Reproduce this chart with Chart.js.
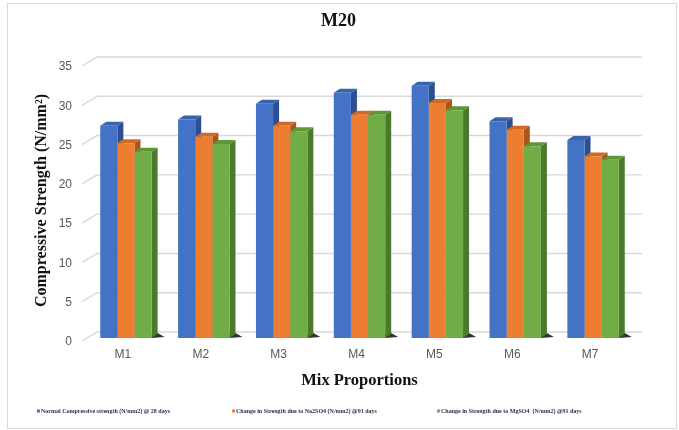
<!DOCTYPE html>
<html>
<head>
<meta charset="utf-8">
<script src="https://cdn.jsdelivr.net/npm/chart.js@4.4.1/dist/chart.umd.min.js"></script>
<style>
  html, body { margin: 0; padding: 0; background: #ffffff; }
  #wrap { width: 679px; height: 430px; }
</style>
</head>
<body>
<div id="wrap"><canvas id="chart" width="679" height="430"></canvas></div>
<script>
// Mix proportions and strengths (N/mm2)
const categories = ['M1', 'M2', 'M3', 'M4', 'M5', 'M6', 'M7'];
const normal28Days = [27.0, 27.8, 29.8, 31.2, 32.1, 27.6, 25.2];
const na2so4At91Days = [24.8, 25.6, 27.0, 28.4, 29.9, 26.5, 23.1];
const mgso4At91Days = [23.7, 24.7, 26.3, 28.4, 29.0, 24.4, 22.7];
const yTickValues = [0, 5, 10, 15, 20, 25, 30, 35];
const seriesNames = [
  'Normal Compressive strength (N/mm2) @ 28 days',
  'Change in Strength due to Na2SO4 (N/mm2) @91 days',
  'Change in Strength due to MgSO4  (N/mm2) @91 days'
];

// front / side / top shades for the pseudo-3D columns
const frontColors = ['#4472C4', '#ED7D31', '#70AD47'];
const sideColors  = ['#2B4F8F', '#A9561C', '#4B7A2C'];
const topColors   = ['#3A63AE', '#CF6A24', '#5E963A'];

const DEPTH_X = 6, DEPTH_Y = 4, WALL_SHIFT = 6;

// white page with a thin frame
const framePlugin = {
  id: 'frame',
  beforeDraw(chart) {
    const ctx = chart.ctx;
    ctx.save();
    ctx.fillStyle = '#ffffff';
    ctx.fillRect(0, 0, chart.width, chart.height);
    ctx.strokeStyle = '#d9d9d9';
    ctx.lineWidth = 1;
    ctx.strokeRect(7.5, 3.5, chart.width - 10, chart.height - 5);
    ctx.restore();
  }
};

// back-wall gridlines plus the short side-wall diagonals, then column sides and tops
const depthPlugin = {
  id: 'depth',
  beforeDatasetsDraw(chart) {
    const ctx = chart.ctx;
    const y = chart.scales.y;
    const area = chart.chartArea;
    ctx.save();
    ctx.strokeStyle = '#d9d9d9';
    ctx.lineWidth = 1.4;
    y.ticks.forEach(t => {
      const py = y.getPixelForValue(t.value);
      ctx.beginPath();
      ctx.moveTo(area.left - 5, py + 3);
      ctx.lineTo(area.left + 10, py - WALL_SHIFT);
      ctx.lineTo(area.right + 10, py - WALL_SHIFT);
      ctx.stroke();
    });

    chart.data.datasets.forEach((ds, i) => {
      const meta = chart.getDatasetMeta(i);
      meta.data.forEach(bar => {
        const p = bar.getProps(['x', 'y', 'base', 'width'], true);
        const l = p.x - p.width / 2, r = p.x + p.width / 2;
        // floor shadow behind the last column of each group
        if (i === chart.data.datasets.length - 1) {
          ctx.fillStyle = 'rgba(0,0,0,0.8)';
          ctx.beginPath();
          ctx.moveTo(r, p.base);
          ctx.lineTo(r + 13, p.base - 1);
          ctx.lineTo(r + DEPTH_X, p.base - DEPTH_Y - 1);
          ctx.lineTo(r, p.base - DEPTH_Y);
          ctx.closePath();
          ctx.fill();
        }
        ctx.fillStyle = sideColors[i];
        ctx.beginPath();
        ctx.moveTo(r, p.y);
        ctx.lineTo(r + DEPTH_X, p.y - DEPTH_Y);
        ctx.lineTo(r + DEPTH_X, p.base - DEPTH_Y);
        ctx.lineTo(r, p.base);
        ctx.closePath();
        ctx.fill();
        ctx.fillStyle = topColors[i];
        ctx.beginPath();
        ctx.moveTo(l, p.y);
        ctx.lineTo(l + DEPTH_X, p.y - DEPTH_Y);
        ctx.lineTo(r + DEPTH_X, p.y - DEPTH_Y);
        ctx.lineTo(r, p.y);
        ctx.closePath();
        ctx.fill();
      });
    });
    ctx.restore();
  }
};

// compact legend row under the axis title
const legendRowPlugin = {
  id: 'legendRow',
  afterDraw(chart, args, opts) {
    const ctx = chart.ctx;
    ctx.save();
    ctx.font = 'bold 6px "Liberation Serif"';
    ctx.textBaseline = 'middle';
    ctx.textAlign = 'left';
    chart.data.datasets.forEach((ds, i) => {
      const x = opts.starts[i];
      ctx.fillStyle = ds.backgroundColor;
      ctx.fillRect(x, opts.y - 1.5, 3, 3);
      ctx.fillStyle = '#1f2a44';
      ctx.fillText(ds.label, x + 4, opts.y);
    });
    ctx.restore();
  }
};

const datasets = [normal28Days, na2so4At91Days, mgso4At91Days].map((values, i) => ({
  label: seriesNames[i],
  data: values,
  backgroundColor: frontColors[i],
  borderWidth: 0,
  barPercentage: 1.0,
  categoryPercentage: 0.66
}));

new Chart(document.getElementById('chart'), {
  type: 'bar',
  data: { labels: categories, datasets },
  plugins: [framePlugin, depthPlugin, legendRowPlugin],
  options: {
    responsive: false,
    animation: false,
    layout: { padding: { left: 8, right: 10, top: 0, bottom: 37 } },
    plugins: {
      legend: { display: false },
      tooltip: { enabled: false },
      title: {
        display: true,
        text: 'M20',
        color: '#111111',
        font: { family: '"Liberation Serif"', size: 18, weight: 'bold' },
        padding: { top: 11, bottom: 30.4 }
      },
      legendRow: { starts: [37, 232, 437], y: 411 }
    },
    scales: {
      x: {
        grid: { display: false, drawTicks: false },
        border: { display: false },
        ticks: {
          color: '#595959',
          font: { family: '"Liberation Sans"', size: 12 },
          padding: 9,
          labelOffset: -3
        },
        title: {
          display: true,
          text: 'Mix Proportions',
          color: '#111111',
          font: { family: '"Liberation Serif"', size: 16.5, weight: 'bold' },
          padding: { top: 0, bottom: 2 }
        },
        afterFit(scale) { scale.height = 55; }
      },
      y: {
        min: 0,
        max: 35,
        grid: { display: false, drawTicks: false },
        border: { display: false },
        afterBuildTicks(scale) { scale.ticks = yTickValues.map(v => ({ value: v })); },
        ticks: {
          color: '#595959',
          font: { family: '"Liberation Sans"', size: 12 },
          padding: 15,
          labelOffset: 4
        },
        title: {
          display: true,
          text: 'Compressive Strength (N/mm²)',
          color: '#111111',
          font: { family: '"Liberation Serif"', size: 16, weight: 'bold' },
          padding: { top: 24.5, bottom: 0 }
        },
        afterFit(scale) { scale.width = 79; }
      },
      yRight: {
        position: 'right',
        display: true,
        grid: { display: false, drawTicks: false },
        border: { display: false },
        ticks: { display: false },
        afterFit(scale) { scale.width = 37; }
      }
    }
  }
});
</script>
</body>
</html>
